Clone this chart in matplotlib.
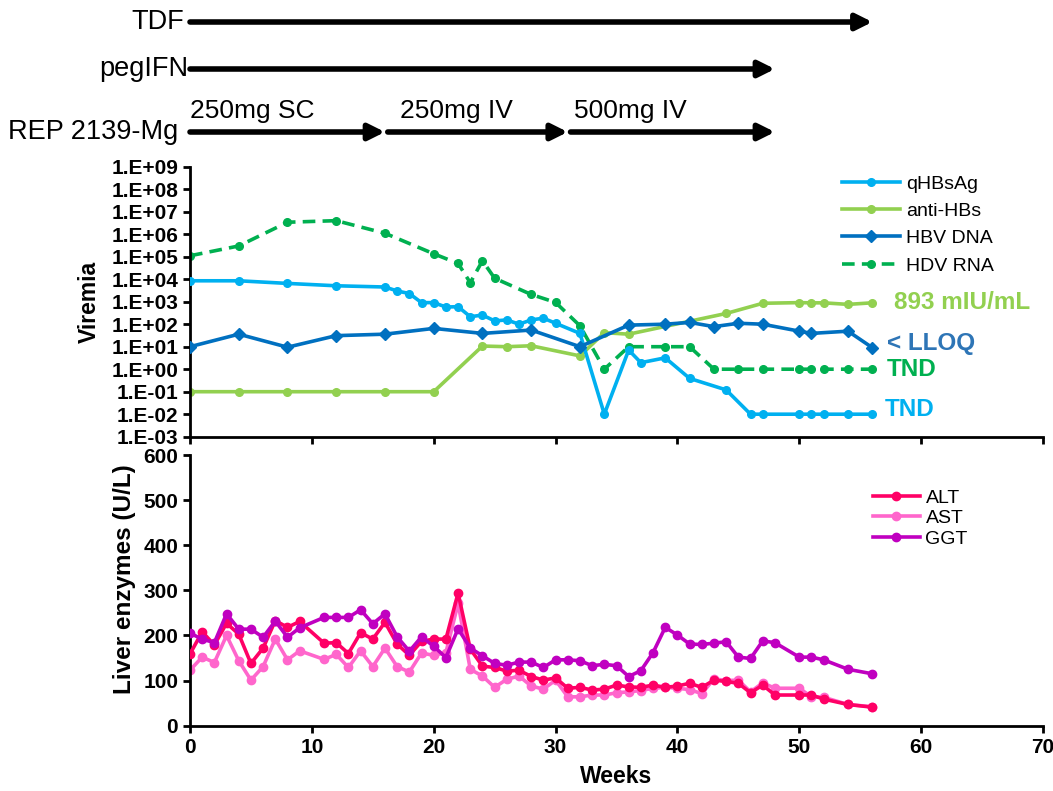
import matplotlib
matplotlib.use('Agg')
import matplotlib.pyplot as plt
import numpy as np

plt.rcParams['font.family'] = ['Liberation Sans', 'DejaVu Sans']

# treatment bars (weeks)
tx_names = ['TDF', 'pegIFN', 'REP 2139-Mg']
tx_start = [[0], [0], [0, 16, 31]]
tx_end = [[56], [48], [16, 31, 48]]
rep_doses = ['250mg SC', '250mg IV', '500mg IV']

# viremia panel
hbsag_wk = [0, 4, 8, 12, 16, 17, 18, 19, 20, 21, 22, 23, 24, 25, 26, 27, 28, 29, 30, 32,
            34, 36, 37, 39, 41, 44, 46, 47, 50, 51, 52, 54, 56]
hbsag = [8500, 8500, 6500, 5100, 4500, 3000, 2300, 910, 910, 580, 600, 215, 255, 140, 155,
         100, 155, 185, 110, 39, 0.01, 7.1, 1.95, 3.2, 0.39, 0.12, 0.01, 0.01, 0.01, 0.01,
         0.01, 0.01, 0.01]
antihbs_wk = [0, 4, 8, 12, 16, 20, 24, 26, 28, 32, 34, 36, 44, 47, 50, 51, 52, 54, 56]
antihbs = [0.1, 0.1, 0.1, 0.1, 0.1, 0.1, 10.7, 10, 11, 3.9, 42, 36, 300, 850, 910, 890,
           890, 760, 893]
hbv_wk = [0, 4, 8, 12, 16, 20, 24, 28, 32, 36, 39, 41, 43, 45, 47, 50, 51, 54, 56]
hbv = [10, 36, 9.5, 31, 36, 65, 39, 55, 10, 91, 100, 120, 78, 110, 100, 49, 39, 49, 9]
hdv_wk = [0, 4, 8, 12, 16, 20, 22, 23, 24, 25, 28, 30, 32, 34, 36, 39, 41, 43, 45, 47, 50,
          51, 52, 54, 56]
hdv = [1.1e5, 3.0e5, 3.4e6, 4.0e6, 1.1e6, 1.35e5, 5.0e4, 7.0e3, 6.6e4, 1.1e4, 2.1e3, 930,
       85, 1, 10, 10, 10, 1, 1, 1, 1, 1, 1, 1, 1]

# liver enzymes panel
enz_wk = [0, 1, 2, 3, 4, 5, 6, 7, 8, 9, 11, 12, 13, 14, 15, 16, 17, 18, 19, 20, 21, 22, 23,
          24, 25, 26, 27, 28, 29, 30, 31, 32, 33, 34, 35, 36, 37, 38, 39, 40, 41, 42, 43,
          44, 45, 46, 47, 48, 50, 51, 52, 54, 56]
alt = [159, 208, 179, 227, 203, 138, 172, 233, 218, 231, 183, 184, 160, 206, 192, 229, 181,
       156, 187, 192, 192, 294, 170, 132, 129, 121, 123, 109, 101, 106, 83, 85, 79, 81, 90,
       86, 85, 90, 85, 88, 94, 85, 101, 98, 94, 73, 90, 68, 68, 68, 59, 47, 41]
ast = [123, 152, 140, 200, 144, 101, 131, 192, 146, 166, 147, 158, 129, 166, 131, 172, 131,
       119, 161, 156, 162, 271, 125, 110, 85, 103, 110, 88, 81, 101, 64, 64, 68, 68, 73,
       75, 78, 83, 85, 83, 80, 71, 104, 100, 101, 75, 95, 83, 83, 64, 63, 47, 42]
ggt = [205, 192, 184, 248, 214, 214, 196, 232, 196, 217, 240, 240, 240, 257, 226, 248, 197,
       165, 197, 176, 151, 215, 172, 155, 138, 134, 141, 141, 129, 146, 146, 144, 133, 136,
       133, 109, 122, 162, 218, 201, 181, 180, 183, 186, 152, 149, 188, 184, 152, 152, 146,
       125, 115]

W, H = 1053, 791
fig = plt.figure(figsize=(W / 100, H / 100), dpi=100)

left = 190 / W
width = 853 / W
ax_tx = fig.add_axes([left, 1 - 155 / H, width, 155 / H])
ax1 = fig.add_axes([left, 1 - 436.7 / H, width, 270 / H])
ax2 = fig.add_axes([left, 1 - 725.7 / H, width, 270.7 / H])

# treatment arrows
ax_tx.set_xlim(0, 70)
ax_tx.set_ylim(155, 0)
ax_tx.axis('off')
rows_y = [22, 69, 132]
name_x = [-0.5, -0.1, -1.0]
for name, starts, ends, y, nx in zip(tx_names, tx_start, tx_end, rows_y, name_x):
    ax_tx.text(nx, y, name, ha='right', va='center', fontsize=19.5)
    for s, e in zip(starts, ends):
        ax_tx.annotate('', xy=(e, y), xytext=(s, y),
                       arrowprops=dict(arrowstyle='-|>', lw=4, color='black',
                                       mutation_scale=24, shrinkA=2 if s > 0 else 0,
                                       shrinkB=0))
for s, lab in zip([0, 17.2, 31.5], rep_doses):
    ax_tx.text(s, 118, lab, ha='left', va='baseline', fontsize=19)

lw = 2.6
ax1.plot(hbsag_wk, hbsag, color='#00B0F0', lw=lw, marker='o', ms=5.5, label='qHBsAg', zorder=3)
ax1.plot(antihbs_wk, antihbs, color='#92D050', lw=lw, marker='o', ms=5.5, label='anti-HBs', zorder=2)
ax1.plot(hbv_wk, hbv, color='#0070C0', lw=lw, marker='D', ms=6.5, label='HBV DNA', zorder=4)
ax1.plot(hdv_wk, hdv, color='#00B050', lw=lw, marker='o', ms=5.5, ls=(0, (3.5, 2)),
         label='HDV RNA', zorder=2)
ax1.set_yscale('log')
ax1.set_ylim(1e-3, 1e9)
ax1.set_xlim(0, 70)
ax1.set_yticks([10.0 ** k for k in range(-3, 10)])
ax1.set_yticklabels(['1.E%+03d' % k for k in range(-3, 10)])
ax1.yaxis.set_minor_locator(matplotlib.ticker.NullLocator())
ax1.set_xticks(range(0, 71, 10))
ax1.set_xticklabels([])
ax1.set_ylabel('Viremia', fontsize=16.5, fontweight='bold')
ax1.yaxis.set_label_coords(-0.104, 0.5)
ax1.legend(loc='upper left', bbox_to_anchor=(842 / W, 1 - 175 / H),
           bbox_transform=fig.transFigure, frameon=False, fontsize=14,
           handlelength=3.0, handletextpad=0.3, labelspacing=0.5,
           borderpad=0, borderaxespad=0)
ax1.text(57.8, 893, '893 mIU/mL', color='#92D050', fontsize=17.5, fontweight='bold', va='center')
ax1.text(57.2, 14, '< LLOQ', color='#2E75B6', fontsize=17.5, fontweight='bold', va='center')
ax1.text(57.2, 1, 'TND', color='#00B050', fontsize=17.5, fontweight='bold', va='center')
ax1.text(57.0, 0.016, 'TND', color='#00B0F0', fontsize=17.5, fontweight='bold', va='center')

ax2.plot(enz_wk, alt, color='#FF0066', lw=lw, marker='o', ms=6, label='ALT', zorder=3)
ax2.plot(enz_wk, ast, color='#FF66CC', lw=lw, marker='o', ms=6, label='AST', zorder=2)
ax2.plot(enz_wk, ggt, color='#C000C0', lw=lw, marker='o', ms=6, label='GGT', zorder=4)
ax2.set_xlim(0, 70)
ax2.set_ylim(0, 600)
ax2.set_xticks(range(0, 71, 10))
ax2.set_yticks(range(0, 601, 100))
ax2.set_ylabel('Liver enzymes (U/L)', fontsize=17.5, fontweight='bold')
ax2.yaxis.set_label_coords(-0.063, 0.54)
ax2.set_xlabel('Weeks', fontsize=16.5, fontweight='bold', labelpad=6)
ax2.legend(loc='upper left', bbox_to_anchor=(873 / W, 1 - 489 / H),
           bbox_transform=fig.transFigure, frameon=False, fontsize=14,
           handlelength=2.4, handletextpad=0.3, labelspacing=0.15,
           borderpad=0, borderaxespad=0)

for ax in (ax1, ax2):
    for sp in ('top', 'right'):
        ax.spines[sp].set_visible(False)
    for sp in ('left', 'bottom'):
        ax.spines[sp].set_linewidth(2)
    ax.tick_params(width=2, length=5, direction='out', labelsize=15)
    for t in ax.get_xticklabels() + ax.get_yticklabels():
        t.set_fontweight('bold')

fig.savefig('out.png', dpi=100)
